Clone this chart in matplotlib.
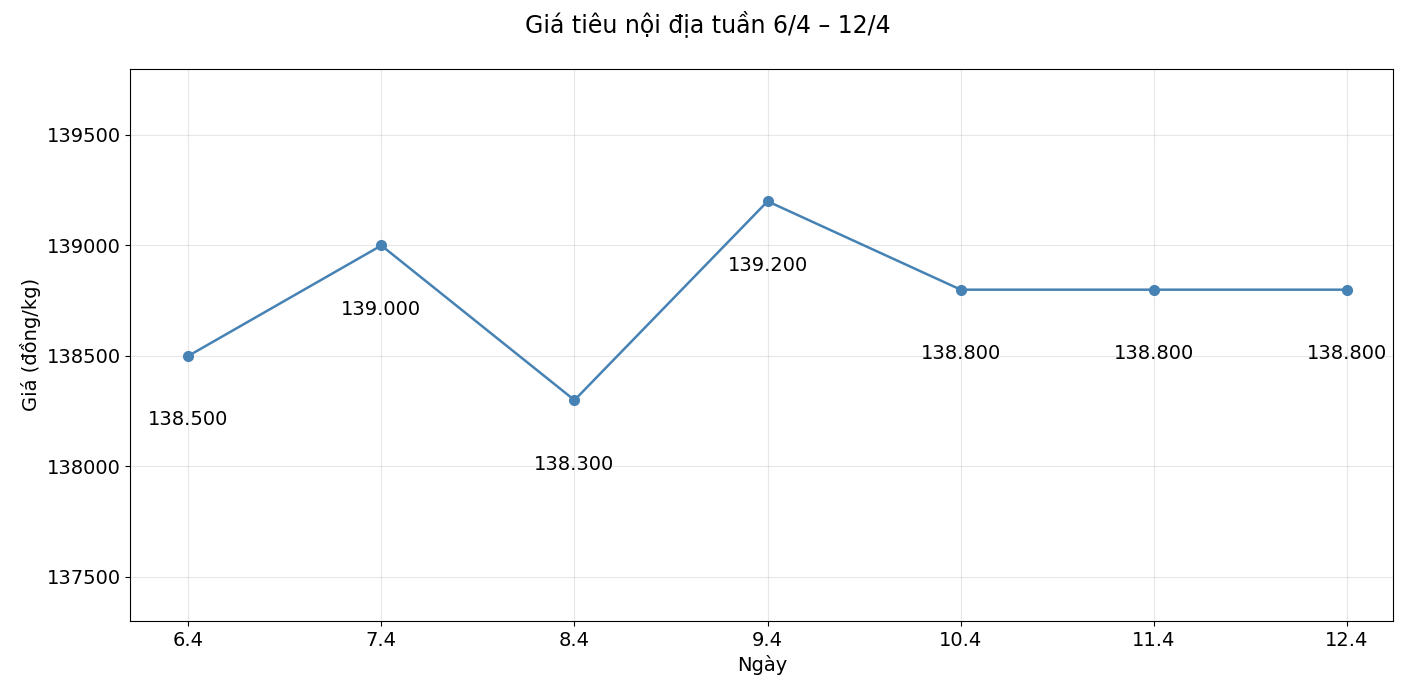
import matplotlib
matplotlib.use("Agg")
import matplotlib.pyplot as plt

days = ["6.4", "7.4", "8.4", "9.4", "10.4", "11.4", "12.4"]
prices = [138500, 139000, 138300, 139200, 138800, 138800, 138800]

fig, ax = plt.subplots(figsize=(14.16, 6.94), dpi=100)
fig.subplots_adjust(left=0.092, right=0.984, top=0.901, bottom=0.105)

x = list(range(len(days)))
ax.plot(x, prices, marker="o", color="steelblue", linewidth=1.8, markersize=7)
for xi, p in zip(x, prices):
    ax.annotate(f"{p:,}".replace(",", "."), (xi, p), xytext=(0, -46),
                textcoords="offset points", ha="center", va="center", fontsize=14)

ax.set_xticks(x)
ax.set_xticklabels(days)
ax.set_xlim(-0.3, 6.24)
ax.set_ylim(137300, 139800)
ax.set_yticks([137500, 138000, 138500, 139000, 139500])
ax.tick_params(labelsize=14)
ax.grid(True, alpha=0.3)
ax.set_xlabel("Ngày", fontsize=14)
ax.set_ylabel("Giá (đồng/kg)", fontsize=14)
fig.suptitle("Giá tiêu nội địa tuần 6/4 – 12/4", fontsize=17, y=0.985)

fig.savefig("out.png")
